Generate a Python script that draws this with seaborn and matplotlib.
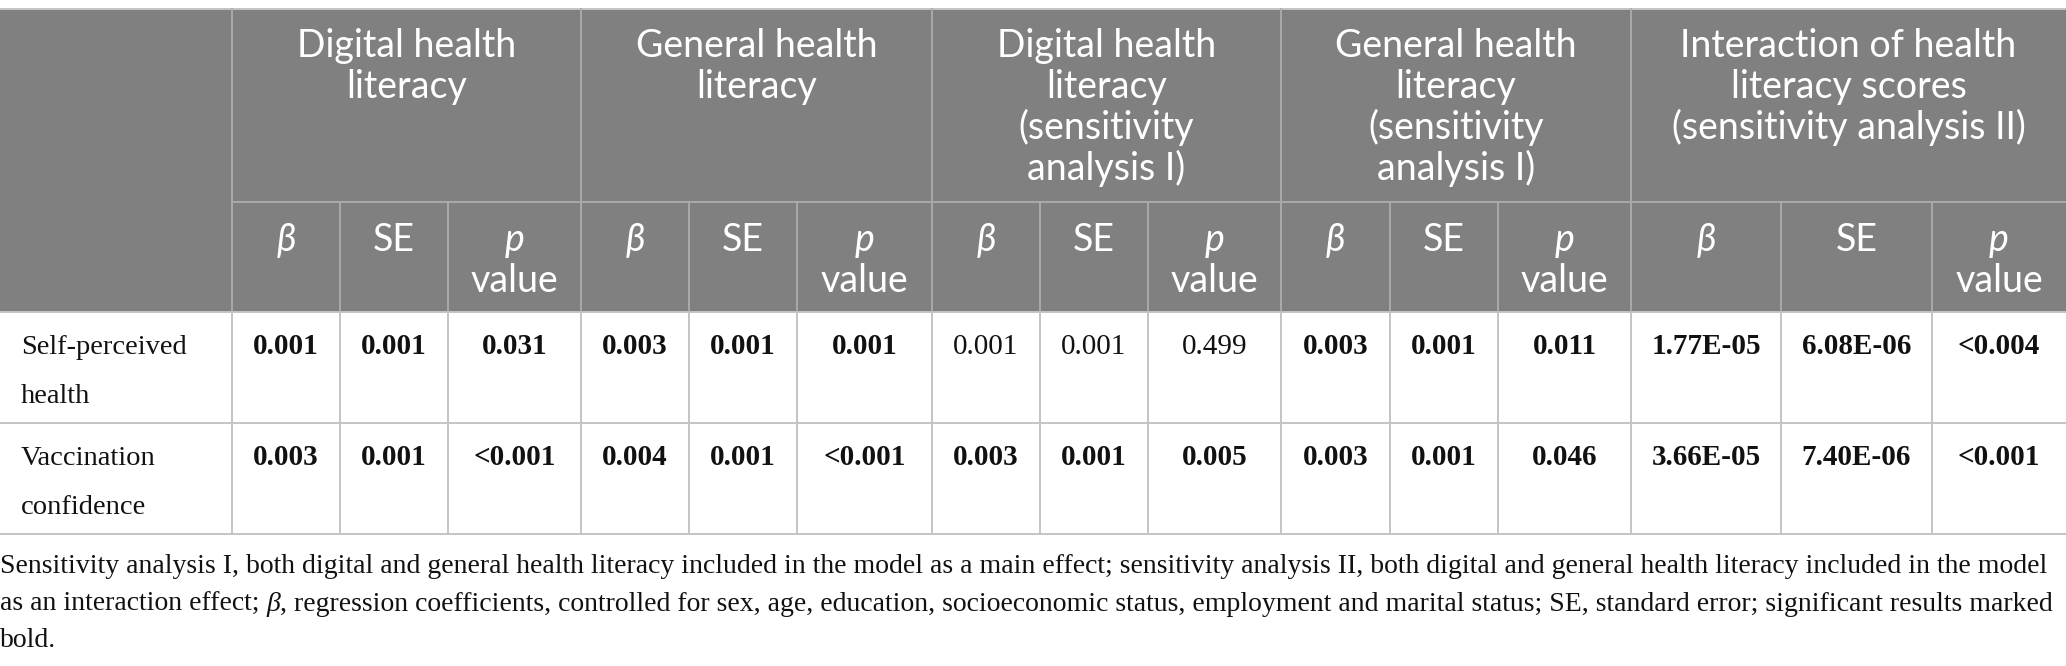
import matplotlib
matplotlib.use('Agg')
import matplotlib.pyplot as plt
from matplotlib.patches import Rectangle
import seaborn as sns

# Table content
groups = ['Digital health\nliteracy',
          'General health\nliteracy',
          'Digital health\nliteracy\n(sensitivity\nanalysis I)',
          'General health\nliteracy\n(sensitivity\nanalysis I)',
          'Interaction of health\nliteracy scores\n(sensitivity analysis II)']
stats = ['β', 'SE', 'p value']
row_labels = ['Self-perceived\nhealth', 'Vaccination\nconfidence']

self_perceived = ['0.001', '0.001', '0.031', '0.003', '0.001', '0.001',
                  '0.001', '0.001', '0.499', '0.003', '0.001', '0.011',
                  '1.77E-05', '6.08E-06', '<0.004']
vaccination = ['0.003', '0.001', '<0.001', '0.004', '0.001', '<0.001',
               '0.003', '0.001', '0.005', '0.003', '0.001', '0.046',
               '3.66E-05', '7.40E-06', '<0.001']
self_perceived_bold = [1, 1, 1, 1, 1, 1, 0, 0, 0, 1, 1, 1, 1, 1, 1]
vaccination_bold = [1, 1, 1, 1, 1, 1, 1, 1, 1, 1, 1, 1, 1, 1, 1]

footnote = [
    'Sensitivity analysis I, both digital and general health literacy included in the model as a main effect; '
    'sensitivity analysis II, both digital and general health literacy included in the model',
    ['as an interaction effect; ', 'β', ', regression coefficients, controlled for sex, age, education, '
     'socioeconomic status, employment and marital status; SE, standard error; significant results marked'],
    'bold.',
]

rows = [(row_labels[0], self_perceived, self_perceived_bold),
        (row_labels[1], vaccination, vaccination_bold)]

# Layout (pixels)
col_edges = [0, 232, 340, 448, 581, 689, 797, 932, 1040, 1148, 1281,
             1390, 1498, 1631, 1781, 1932, 2066]
row_edges = [8.5, 202, 312, 423, 534]
header_bg = '#7f807f'
header_line = '#a9aaa9'
body_line = '#c4c4c4'

sns.set_theme(style='white')
plt.rcParams['font.family'] = ['Liberation Serif', 'DejaVu Serif']

fig = plt.figure(figsize=(20.66, 6.66), dpi=100)
ax = fig.add_axes([0, 0, 1, 1])
ax.set_xlim(0, 2066)
ax.set_ylim(666, 0)
ax.axis('off')

# Header background
ax.add_patch(Rectangle((0, row_edges[0]), 2066, row_edges[2] - row_edges[0],
                       facecolor=header_bg, edgecolor='none', zorder=0))

# Grid lines
ax.plot([0, 2066], [row_edges[0]] * 2, color=body_line, lw=1.4)
ax.plot([col_edges[1], 2066], [row_edges[1]] * 2, color=header_line, lw=1.4)
ax.plot([0, 2066], [row_edges[2]] * 2, color=body_line, lw=1.4)
for y in row_edges[3:]:
    ax.plot([0, 2066], [y, y], color=body_line, lw=1.4)
for i, x in enumerate(col_edges[1:-1], start=1):
    top = row_edges[0] if (i - 1) % 3 == 0 else row_edges[1]
    ax.plot([x, x], [top, row_edges[2]], color=header_line, lw=1.4)
    ax.plot([x, x], [row_edges[2], row_edges[4]], color=body_line, lw=1.4)

hfont = dict(family=['Lato', 'DejaVu Sans'], weight='normal', color='white', size=27)

# Group headers
for g, label in enumerate(groups):
    cx = (col_edges[1 + 3 * g] + col_edges[4 + 3 * g]) / 2
    for k, line in enumerate(label.split('\n')):
        ax.text(cx, 57 + 41 * k, line, ha='center', va='baseline', **hfont)

# Sub headers
for g in range(len(groups)):
    for s, st in enumerate(stats):
        c = 1 + 3 * g + s
        cx = (col_edges[c] + col_edges[c + 1]) / 2
        if st == 'β':
            ax.text(cx, 251, 'β', ha='center', va='baseline', style='italic', **hfont)
        elif st == 'SE':
            ax.text(cx, 251, 'SE', ha='center', va='baseline', **hfont)
        else:
            ax.text(cx, 251, 'p', ha='center', va='baseline', style='italic', **hfont)
            ax.text(cx, 292, 'value', ha='center', va='baseline', **hfont)

# Body rows
for r, (label, vals, bold) in enumerate(rows):
    base = 354 + 111 * r
    for k, line in enumerate(label.split('\n')):
        ax.text(21, base + 49 * k, line, ha='left', va='baseline',
                size=20.5, color='#111111')
    for c, (v, b) in enumerate(zip(vals, bold)):
        cx = (col_edges[c + 1] + col_edges[c + 2]) / 2
        ax.text(cx, base, v, ha='center', va='baseline', size=21,
                weight='bold' if b else 'normal', color='#111111')

# Footnote
fig.canvas.draw()
renderer = fig.canvas.get_renderer()
fsize = 20
probe = ax.text(0, 573, footnote[0], size=fsize, va='baseline')
w = probe.get_window_extent(renderer).width
fsize = fsize * 2050 / w
probe.set_size(fsize)
probe.set_color('#111111')

x = 0
for part in footnote[1]:
    t = ax.text(x, 611, part, size=fsize, va='baseline', color='#111111',
                style='italic' if part == 'β' else 'normal')
    fig.canvas.draw()
    x += t.get_window_extent(renderer).width
ax.text(0, 647, footnote[2], size=fsize, va='baseline', color='#111111')

fig.savefig('out.png', dpi=100)
